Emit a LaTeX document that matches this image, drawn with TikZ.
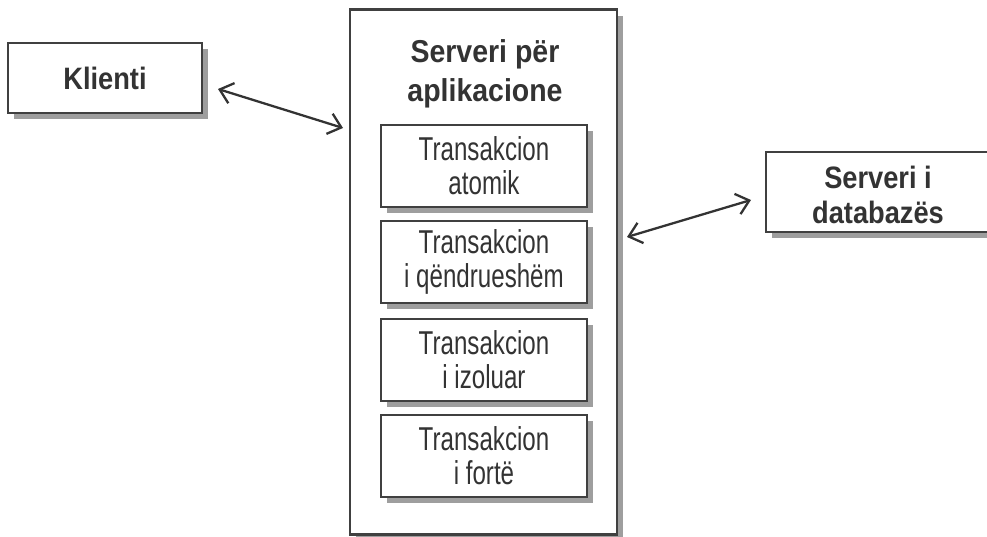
\documentclass[tikz,border=0pt]{standalone}
\usepackage{fontspec}
\setmainfont{Liberation Sans}
\newfontfamily\boldnarrow{Liberation Sans}[FakeStretch=0.9]
\newfontfamily\dbnarrow{Liberation Sans}[FakeStretch=0.88]
\newfontfamily\plainnarrow{Liberation Sans}[FakeStretch=0.73]
\usetikzlibrary{arrows.meta,shadows}
\definecolor{txt}{gray}{0.2}
\definecolor{edge}{gray}{0.25}
\definecolor{shade}{gray}{0.62}
\tikzset{
  box/.style={draw=edge, line width=0.8pt, fill=white, text=txt, align=center, inner sep=0pt,
    drop shadow={shadow xshift=1.8pt, shadow yshift=-1.8pt, fill=shade, opacity=1}},
  titletext/.style={font=\boldnarrow\bfseries\fontsize{9}{11.2}\selectfont},
  klienttext/.style={font=\dbnarrow\bfseries\fontsize{8.8}{10}\selectfont},
  dbtextstyle/.style={font=\dbnarrow\bfseries\fontsize{8.8}{9.9}\selectfont},
  inner/.style={box, minimum width=2.06cm, minimum height=0.82cm, font=\plainnarrow\fontsize{9.4}{9.7}\selectfont},
  link/.style={draw=txt, line width=0.65pt, {Straight Barb[length=3.5pt,width=6pt]}-{Straight Barb[length=3.5pt,width=6pt]}}
}
\begin{document}
\begin{tikzpicture}[x=0.01cm,y=-0.01cm]
\useasboundingbox (0,0) rectangle (987,537);
\clip (0,0) rectangle (987,537);
\fill[white] (0,0) rectangle (987,537);
% client
\node[box, minimum width=1.94cm, minimum height=0.70cm, klienttext] (klient) at (105,78) {Klienti};
% application server
\node[box, minimum width=2.67cm, minimum height=5.24cm] (app) at (483.5,272) {};
\node[text=txt, titletext, align=center] (apptitle) at (485,74) {Serveri për\\aplikacione};
\node[inner] (t1) at (484,166) {Transakcion\\atomik};
\node[inner] (t2) at (484,262) {Transakcion\\i qëndrueshëm};
\node[inner] (t3) at (484,360) {Transakcion\\i izoluar};
\node[inner] (t4) at (484,456) {Transakcion\\i fortë};
% database server
\node[box, minimum width=2.24cm, minimum height=0.80cm] (db) at (878,192) {};
\node[text=txt, dbtextstyle, align=center] (dbtext) at (878,195) {Serveri i\\databazës};
% connectors
\coordinate (k1) at (218,89);
\coordinate (k2) at (343,128);
\coordinate (d1) at (627,237);
\coordinate (d2) at (751,200);
\draw[link] (k1) -- (k2);
\draw[link] (d1) -- (d2);
\end{tikzpicture}
\end{document}
